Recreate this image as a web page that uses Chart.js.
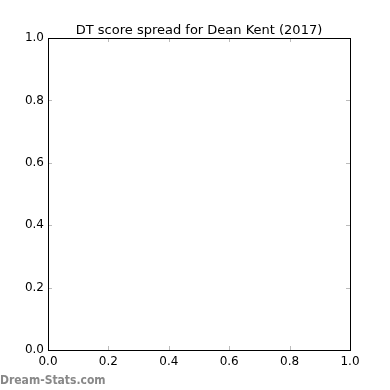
<!DOCTYPE html>
<html><head><meta charset="utf-8">
<script src="https://cdn.jsdelivr.net/npm/chart.js@4/dist/chart.umd.min.js"></script>
<style>html,body{margin:0;padding:0;background:#fff}#wrap{width:390px;height:390px}</style>
</head><body><div id="wrap"><canvas id="c" width="390" height="390"></canvas></div>
<script>
const titleText = "DT score spread for Dean Kent (2017)";
const watermark = "Dream-Stats.com";
const xTicks = [0, 0.2, 0.4, 0.6, 0.8, 1.0];
const yTicks = [0, 0.2, 0.4, 0.6, 0.8, 1.0];
const points = []; // no data in the reference

const FONT = "'DejaVu Sans', sans-serif";

const innerTicks = {
  id: 'innerTicks',
  afterDraw(chart) {
    const ctx = chart.ctx, a = chart.chartArea;
    const xs = chart.scales.x, ys = chart.scales.y;
    ctx.save();
    ctx.strokeStyle = '#bbbbbb';
    ctx.lineWidth = 1;
    ctx.beginPath();
    xTicks.forEach(v => {
      const px = Math.round(xs.getPixelForValue(v)) + 0.5;
      ctx.moveTo(px, a.bottom); ctx.lineTo(px, a.bottom - 4);
      ctx.moveTo(px, a.top); ctx.lineTo(px, a.top + 4);
    });
    yTicks.forEach(v => {
      const py = Math.round(ys.getPixelForValue(v)) + 0.5;
      ctx.moveTo(a.left, py); ctx.lineTo(a.left + 4, py);
      ctx.moveTo(a.right, py); ctx.lineTo(a.right - 4, py);
    });
    ctx.stroke();
    ctx.strokeStyle = '#000';
    ctx.lineWidth = 1;
    ctx.strokeRect(Math.round(a.left) + 0.5, Math.round(a.top) + 0.5,
                   Math.round(a.right - a.left), Math.round(a.bottom - a.top));
    ctx.fillStyle = '#000';
    ctx.font = '13px ' + FONT;
    ctx.textAlign = 'center';
    ctx.textBaseline = 'alphabetic';
    ctx.fillText(titleText, (a.left + a.right) / 2, 34);
    ctx.fillStyle = '#888888';
    ctx.font = "bold 12px 'DejaVu Sans Condensed', 'DejaVu Sans', sans-serif";
    ctx.textAlign = 'left';
    ctx.fillText(watermark, 0, 384);
    ctx.restore();
  }
};

new Chart(document.getElementById('c'), {
  type: 'scatter',
  data: { datasets: [{ data: points, backgroundColor: '#1f77b4' }] },
  options: {
    responsive: false,
    animation: false,
    devicePixelRatio: 1,
    layout: { padding: { top: 38, right: 40, left: 0, bottom: 0 } },
    plugins: { legend: { display: false }, title: { display: false }, tooltip: { enabled: false } },
    scales: {
      x: {
        type: 'linear', min: 0, max: 1,
        afterBuildTicks(s) { s.ticks = xTicks.map(v => ({ value: v })); },
        afterFit(s) { s.height = 40; },
        grid: { display: false, drawTicks: false },
        border: { display: false },
        ticks: { color: '#000', font: { family: FONT, size: 12 }, padding: 5, maxRotation: 0,
                 callback: v => v.toFixed(1) }
      },
      y: {
        type: 'linear', min: 0, max: 1,
        afterBuildTicks(s) { s.ticks = yTicks.map(v => ({ value: v })); },
        afterFit(s) { s.width = 48; },
        grid: { display: false, drawTicks: false },
        border: { display: false },
        ticks: { color: '#000', font: { family: FONT, size: 12 }, padding: 4,
                 callback: v => v.toFixed(1) }
      }
    }
  },
  plugins: [innerTicks]
});
</script></body></html>
